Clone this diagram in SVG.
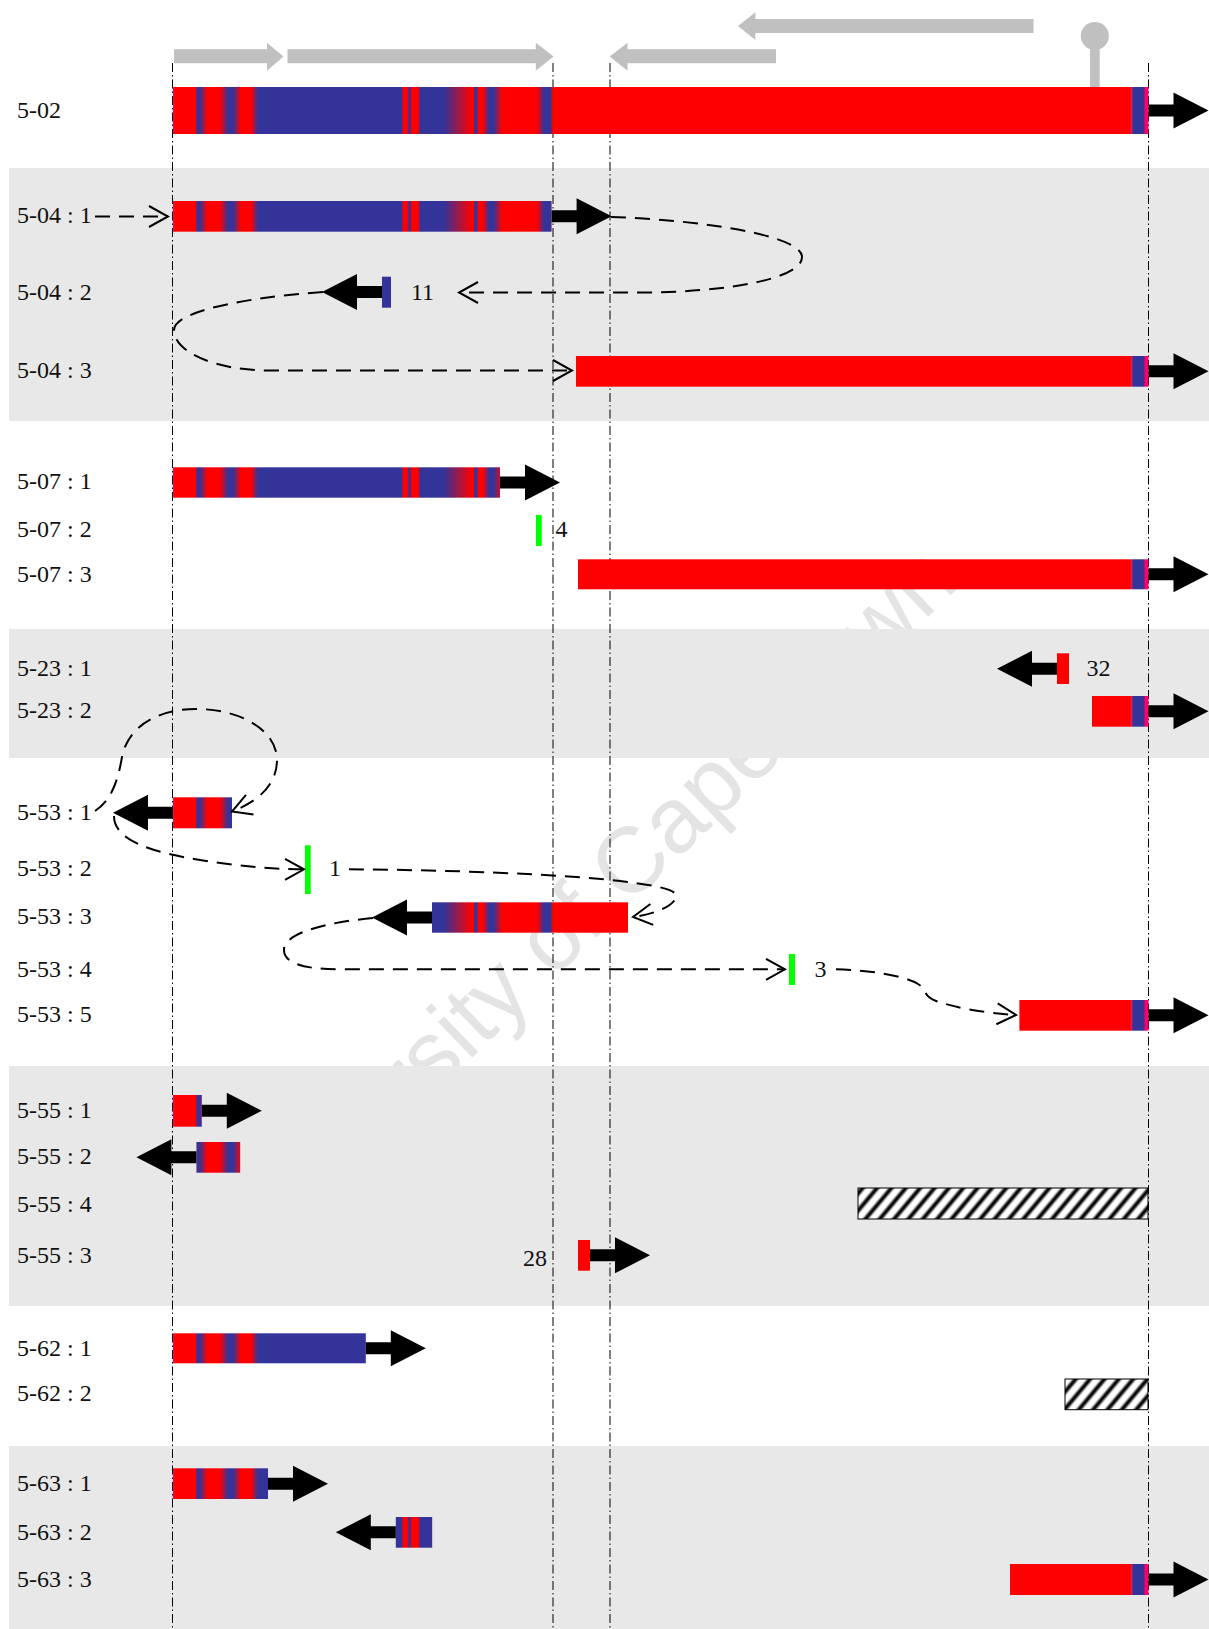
<svg xmlns="http://www.w3.org/2000/svg" xmlns:xlink="http://www.w3.org/1999/xlink" width="1209" height="1629" viewBox="0 0 1209 1629">
  <style>
    .lbl { font-family: "Liberation Serif", "Times New Roman", serif; font-size: 24px; fill: #111; }
    .band { fill: #e8e8e8; }
    .vline { fill: none; stroke: #000; stroke-width: 1; stroke-dasharray: 9 3 1.5 3; }
    .dash { fill: none; stroke: #000; stroke-width: 2; stroke-dasharray: 15 9; marker-end: url(#chev); }
    .map { fill: url(#map); }
    .green { fill: #00ff00; }
    .hatch { fill: url(#hatch); stroke: #000; stroke-width: 1; }
    .feat { fill: #c0c0c0; }
    .arrow { fill: #000; }
    .wm { font-family: "Liberation Sans", Arial, sans-serif; font-size: 93px; fill: #e4e4e4; }
  </style>
  <defs>
    <!-- colour map of the locus: red = one parent, blue = the other -->
    <linearGradient id="map" gradientUnits="userSpaceOnUse" x1="173" y1="0" x2="1148.5" y2="0">
      <stop offset="0" stop-color="#ff0066"/>
      <stop offset="0.00205" stop-color="#ff0000"/>
      <stop offset="0.02389" stop-color="#ff0000"/>
      <stop offset="0.02419" stop-color="#333399"/>
      <stop offset="0.02768" stop-color="#333399"/>
      <stop offset="0.03485" stop-color="#ff0000"/>
      <stop offset="0.04818" stop-color="#ff0000"/>
      <stop offset="0.05638" stop-color="#333399"/>
      <stop offset="0.06151" stop-color="#333399"/>
      <stop offset="0.06971" stop-color="#ff0000"/>
      <stop offset="0.07996" stop-color="#ff0000"/>
      <stop offset="0.08713" stop-color="#333399"/>
      <stop offset="0.23506" stop-color="#333399"/>
      <stop offset="0.23537" stop-color="#ff0000"/>
      <stop offset="0.23988" stop-color="#ff0000"/>
      <stop offset="0.24244" stop-color="#333399"/>
      <stop offset="0.24500" stop-color="#ff0000"/>
      <stop offset="0.25115" stop-color="#ff0000"/>
      <stop offset="0.25372" stop-color="#333399"/>
      <stop offset="0.27781" stop-color="#333399"/>
      <stop offset="0.30651" stop-color="#ff0000"/>
      <stop offset="0.30876" stop-color="#ff0000"/>
      <stop offset="0.30907" stop-color="#333399"/>
      <stop offset="0.31113" stop-color="#333399"/>
      <stop offset="0.31317" stop-color="#ff0000"/>
      <stop offset="0.31779" stop-color="#ff0000"/>
      <stop offset="0.32394" stop-color="#333399"/>
      <stop offset="0.32906" stop-color="#333399"/>
      <stop offset="0.33727" stop-color="#ff0000"/>
      <stop offset="0.37314" stop-color="#ff0000"/>
      <stop offset="0.38032" stop-color="#333399"/>
      <stop offset="0.38698" stop-color="#333399"/>
      <stop offset="0.38954" stop-color="#ff0000"/>
      <stop offset="0.98104" stop-color="#ff0000"/>
      <stop offset="0.98257" stop-color="#d02060"/>
      <stop offset="0.98432" stop-color="#333399"/>
      <stop offset="0.99539" stop-color="#333399"/>
      <stop offset="0.99641" stop-color="#ff0066"/>
      <stop offset="1" stop-color="#ff0066"/>
    </linearGradient>
    <linearGradient id="stripe" x1="0" y1="0" x2="1" y2="0">
      <stop offset="0" stop-color="#fff"/>
      <stop offset="0.2" stop-color="#fff"/>
      <stop offset="0.44" stop-color="#000"/>
      <stop offset="0.56" stop-color="#000"/>
      <stop offset="0.8" stop-color="#fff"/>
      <stop offset="1" stop-color="#fff"/>
    </linearGradient>
    <pattern id="hatch" patternUnits="userSpaceOnUse" width="11" height="20" patternTransform="rotate(40)">
      <rect width="11" height="20" fill="url(#stripe)"/>
    </pattern>
    <marker id="chev" markerUnits="userSpaceOnUse" viewBox="0 0 22 24" markerWidth="22" markerHeight="24" refX="20" refY="12" orient="auto">
      <path d="M1,1.5 L20,12 L1,22.5" fill="none" stroke="#000" stroke-width="2" stroke-dasharray="none"/>
    </marker>
    <path id="arrR" d="M0,-6 H25 V-18 L60,0 L25,18 V6 H0 Z"/>
    <path id="arrL" d="M0,-6 H-25 V-18 L-60,0 L-25,18 V6 H0 Z"/>
  </defs>

  <rect width="1209" height="1629" fill="#fff"/>

  <!-- faint background watermark -->
  <text class="wm" x="0" y="0" text-anchor="middle" transform="translate(601,933) rotate(-44)">University of Cape Town</text>

  <!-- alternating row bands -->
  <g id="bands">
    <rect class="band" x="9" y="168" width="1200" height="253"/>
    <rect class="band" x="9" y="629" width="1200" height="129"/>
    <rect class="band" x="9" y="1066" width="1200" height="240"/>
    <rect class="band" x="9" y="1446" width="1200" height="183"/>
  </g>

  <!-- reference guide lines -->
  <g id="guides">
    <line class="vline" x1="172.5" y1="63" x2="172.5" y2="1629"/>
    <line class="vline" x1="553" y1="63" x2="553" y2="1629"/>
    <line class="vline" x1="610" y1="63" x2="610" y2="1629"/>
    <line class="vline" x1="1148.5" y1="63" x2="1148.5" y2="1629"/>
  </g>

  <!-- annotated features above the reference -->
  <g id="features">
    <path class="feat" d="M174,49.3 H267 V42.7 L283.5,56.5 L267,70.7 V63.3 H174 Z"/>
    <path class="feat" d="M287.5,49.3 H535.8 V42.7 L553.6,56.5 L535.8,70.7 V63.3 H287.5 Z"/>
    <path class="feat" d="M776,49.3 H627.5 V42.7 L609.7,56.5 L627.5,70.7 V63.3 H776 Z"/>
    <path class="feat" d="M1033.5,19 H755.4 V12.3 L738,26 L755.4,40 V33 H1033.5 Z"/>
    <rect class="feat" x="1090" y="36" width="9.7" height="51"/>
    <circle class="feat" cx="1094.8" cy="36" r="14"/>
  </g>

  <!-- row 5-02 -->
  <g id="row-5-02">
    <text class="lbl" x="17" y="118">5-02</text>
    <rect class="map" x="173" y="87" width="975.5" height="47"/>
    <use href="#arrR" class="arrow" x="1148.5" y="110.5"/>
  </g>

  <!-- rows 5-04 -->
  <g id="row-5-04-1">
    <text class="lbl" x="17" y="223">5-04 : 1</text>
    <rect class="map" x="173" y="201" width="378.6" height="30.7"/>
    <use href="#arrR" class="arrow" x="551.6" y="216.3"/>
  </g>
  <g id="row-5-04-2">
    <text class="lbl" x="17" y="300">5-04 : 2</text>
    <rect class="map" x="382" y="276.7" width="9" height="31"/>
    <use href="#arrL" class="arrow" x="382" y="292"/>
    <text class="lbl" x="411" y="300">11</text>
  </g>
  <g id="row-5-04-3">
    <text class="lbl" x="17" y="378">5-04 : 3</text>
    <rect class="map" x="576" y="356" width="572.5" height="30.7"/>
    <use href="#arrR" class="arrow" x="1148.5" y="371.3"/>
  </g>

  <!-- rows 5-07 -->
  <g id="row-5-07-1">
    <text class="lbl" x="17" y="489">5-07 : 1</text>
    <rect class="map" x="173" y="467.3" width="327" height="30.4"/>
    <use href="#arrR" class="arrow" x="500" y="482.5"/>
  </g>
  <g id="row-5-07-2">
    <text class="lbl" x="17" y="537">5-07 : 2</text>
    <rect class="green" x="536" y="515" width="5.7" height="31"/>
    <text class="lbl" x="555.5" y="537">4</text>
  </g>
  <g id="row-5-07-3">
    <text class="lbl" x="17" y="582">5-07 : 3</text>
    <rect class="map" x="578" y="559.3" width="570.5" height="30"/>
    <use href="#arrR" class="arrow" x="1148.5" y="574.3"/>
  </g>

  <!-- rows 5-23 -->
  <g id="row-5-23-1">
    <text class="lbl" x="17" y="676">5-23 : 1</text>
    <rect class="map" x="1057" y="653.3" width="12" height="30.7"/>
    <use href="#arrL" class="arrow" x="1057" y="668.7"/>
    <text class="lbl" x="1086.5" y="676">32</text>
  </g>
  <g id="row-5-23-2">
    <text class="lbl" x="17" y="718">5-23 : 2</text>
    <rect class="map" x="1092" y="696" width="56.5" height="30.7"/>
    <use href="#arrR" class="arrow" x="1148.5" y="711.3"/>
  </g>

  <!-- rows 5-53 -->
  <g id="row-5-53-1">
    <text class="lbl" x="17" y="820">5-53 : 1</text>
    <rect class="map" x="173" y="797.3" width="59" height="31"/>
    <use href="#arrL" class="arrow" x="173" y="812.8"/>
  </g>
  <g id="row-5-53-2">
    <text class="lbl" x="17" y="876">5-53 : 2</text>
    <rect class="green" x="305" y="845.3" width="5.7" height="48.7"/>
    <text class="lbl" x="329" y="876">1</text>
  </g>
  <g id="row-5-53-3">
    <text class="lbl" x="17" y="924">5-53 : 3</text>
    <rect class="map" x="432" y="902.3" width="196" height="30.4"/>
    <use href="#arrL" class="arrow" x="432" y="917.5"/>
  </g>
  <g id="row-5-53-4">
    <text class="lbl" x="17" y="977">5-53 : 4</text>
    <rect class="green" x="789" y="954" width="6" height="31"/>
    <text class="lbl" x="814.5" y="977">3</text>
  </g>
  <g id="row-5-53-5">
    <text class="lbl" x="17" y="1022">5-53 : 5</text>
    <rect class="map" x="1019.4" y="1000" width="129.1" height="30.7"/>
    <use href="#arrR" class="arrow" x="1148.5" y="1015.3"/>
  </g>

  <!-- rows 5-55 -->
  <g id="row-5-55-1">
    <text class="lbl" x="17" y="1118">5-55 : 1</text>
    <rect class="map" x="173" y="1095" width="28.8" height="31.7"/>
    <use href="#arrR" class="arrow" x="201.8" y="1110.8"/>
  </g>
  <g id="row-5-55-2">
    <text class="lbl" x="17" y="1164">5-55 : 2</text>
    <rect class="map" x="196.4" y="1142" width="43.8" height="30.7"/>
    <use href="#arrL" class="arrow" x="196.4" y="1157.3"/>
  </g>
  <g id="row-5-55-4">
    <text class="lbl" x="17" y="1212">5-55 : 4</text>
    <rect class="hatch" x="858" y="1188" width="290" height="31"/>
  </g>
  <g id="row-5-55-3">
    <text class="lbl" x="17" y="1263">5-55 : 3</text>
    <rect class="map" x="578" y="1240" width="12" height="30.7"/>
    <use href="#arrR" class="arrow" x="590" y="1255.3"/>
    <text class="lbl" x="523" y="1266">28</text>
  </g>

  <!-- rows 5-62 -->
  <g id="row-5-62-1">
    <text class="lbl" x="17" y="1356">5-62 : 1</text>
    <rect class="map" x="173" y="1333.3" width="192.8" height="30"/>
    <use href="#arrR" class="arrow" x="365.8" y="1348.3"/>
  </g>
  <g id="row-5-62-2">
    <text class="lbl" x="17" y="1401">5-62 : 2</text>
    <rect class="hatch" x="1065" y="1379" width="83" height="30.7"/>
  </g>

  <!-- rows 5-63 -->
  <g id="row-5-63-1">
    <text class="lbl" x="17" y="1491">5-63 : 1</text>
    <rect class="map" x="173" y="1468.3" width="95" height="30.7"/>
    <use href="#arrR" class="arrow" x="268" y="1483.7"/>
  </g>
  <g id="row-5-63-2">
    <text class="lbl" x="17" y="1540">5-63 : 2</text>
    <rect class="map" x="395.8" y="1517" width="36.4" height="30.7"/>
    <use href="#arrL" class="arrow" x="395.8" y="1532.3"/>
  </g>
  <g id="row-5-63-3">
    <text class="lbl" x="17" y="1587">5-63 : 3</text>
    <rect class="map" x="1010" y="1564" width="138.5" height="31"/>
    <use href="#arrR" class="arrow" x="1148.5" y="1579.5"/>
  </g>

  <!-- joins between consecutive pieces -->
  <g id="connectors">
    <path class="dash" d="M95,216.5 H168"/>
    <path class="dash" d="M611,217 C700,220 802,235 802,257 C802,280 720,292.5 640,292.5 L459,292.5"/>
    <path class="dash" d="M323,292 C240,298 174,312 174,330 C174,352 215,370.5 270,370.5 L572,370.5"/>
    <path class="dash" d="M95,811 C112,800 118,780 122,757 C128,725 160,709 196,709 C240,709 277,730 277,760 C277,782 262,800 232,811.5"/>
    <path class="dash" d="M114,816 C114,840 150,852 200,860 C240,866 270,869.3 304,869.3"/>
    <path class="dash" d="M349,869.3 C450,870 560,874 620,881 C660,886 678,890 676,897 C674,906 655,914 633,917"/>
    <path class="dash" d="M373,918 C330,922 284,932 284,950 C284,962 300,969.3 340,969.3 L785,969.3"/>
    <path class="dash" d="M836,969.3 C870,970 905,976 918,984 C928,990 922,996 936,1001 C956,1008 985,1013 1016,1015"/>
  </g>
</svg>
